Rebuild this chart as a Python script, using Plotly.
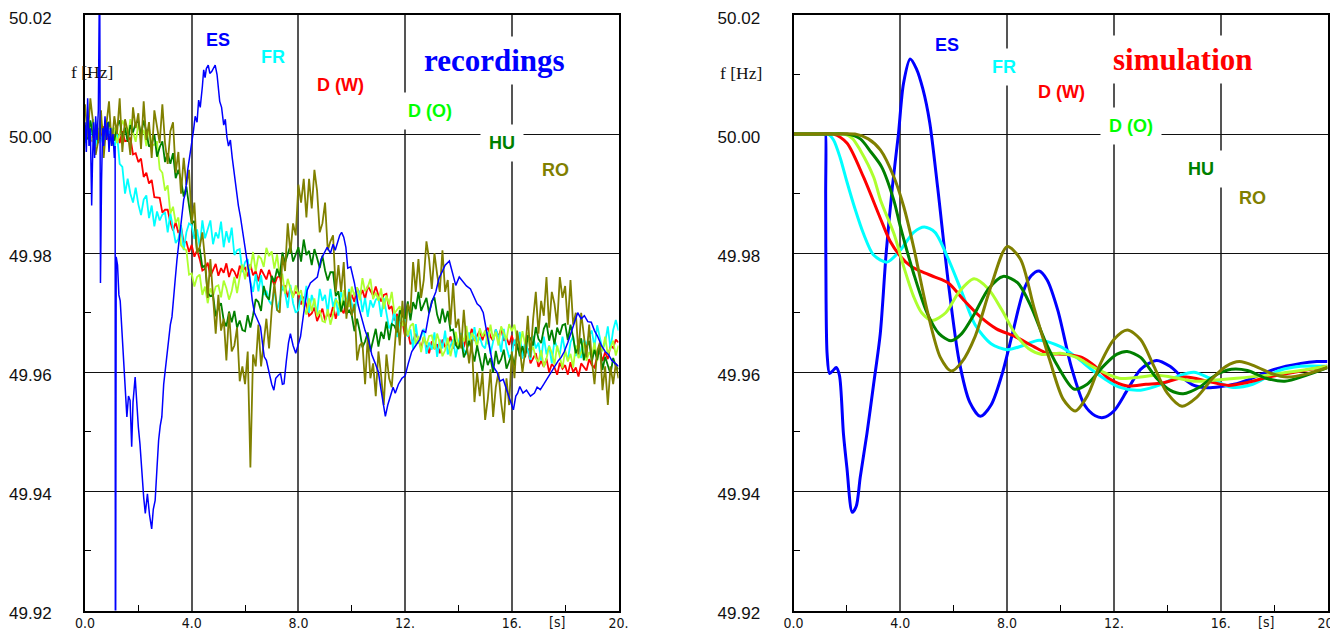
import plotly.graph_objects as go

# ------------------------------------------------------------------ data
REC_DT = 0.1  # s, sampling step of the digitised recordings (0 .. 20 s)

# recordings: deviation from 50 Hz in mHz, one value every 0.1 s
rec_fr_mhz = [
    -1.5, 1, -0.5, 2.5, -2, 1, -0.5, -2, 2, 0,
    1, -2.5, 0, -5, -5.5, -10, -7.5, -10, -11.5, -9,
    -11.8, -13.6, -11, -10.3, -14.1, -12, -15.5, -13, -14.5, -13.5,
    -13.2, -16.5, -13.3, -15.5, -18.3, -17.6, -15.3, -19.5, -16.5, -15,
    -15.3, -17.6, -16, -19, -14.5, -17.5, -16, -14.5, -18.5, -16.5,
    -17.5, -14.7, -19, -16.3, -18.2, -15.7, -20.3, -19.5, -19.3, -23.2,
    -21.5, -21, -24.8, -26.5, -23.5, -26.4, -23.7, -27, -26.3, -28,
    -28.7, -26, -29.7, -27.9, -25.5, -26.6, -29.2, -25.3, -28.4, -30,
    -29.5, -27, -28.5, -25.5, -30, -27, -28.5, -30, -26, -28,
    -27, -30, -26, -29, -27.5, -30.5, -26.5, -28, -29, -26,
    -28.5, -30, -27.2, -26.3, -29.9, -27.5, -30.7, -27.9, -29.1, -27.8,
    -27.5, -30.7, -27.5, -29.8, -32.6, -31.9, -29.7, -34.1, -31.5, -30.4,
    -31.2, -34, -32.8, -36.1, -31.9, -35.2, -34, -32.7, -36.9, -35,
    -36.2, -33.3, -37.4, -34.5, -36, -33, -37, -35.5, -34.5, -37.5,
    -35, -33.4, -36.2, -37, -33.3, -35.6, -32.4, -35.2, -34.1, -35.5,
    -36, -33.2, -36.9, -35.1, -32.8, -34, -36.6, -32.7, -35.8, -37.4,
    -37, -34.5, -36.1, -33.2, -37.7, -34.8, -36.3, -37.9, -33.9, -36,
    -35, -38, -34, -37, -35.5, -38.5, -34.5, -36, -37, -34,
    -36.5, -38, -35, -33.9, -37.3, -34.7, -37.6, -34.5, -35.4, -33.7,
    -33, -35.8, -32.1, -33.9, -36.2, -35, -32.3, -36.1, -32.9, -31.2,
    -33,
]
rec_dw_mhz = [
    -1, 0.4, -1.3, -0.3, 1.2, 0.5, -0.8, 1.3, -0.1, -1.2,
    0.8, -0.5, 0.3, -1.5, 0.5, -1.2, -1.1, -0.6, -3.4, -3.2,
    -4.7, -4.1, -7.2, -6.5, -8.3, -7.7, -10.6, -10.7, -10.7, -13.2,
    -12.7, -12.7, -14.8, -16.2, -14.8, -16.6, -15.6, -18.2, -18.1, -19.8,
    -18.6, -20.6, -19.5, -21, -22.9, -22.6, -21.6, -23.9, -22.7, -21.8,
    -23.8, -22.5, -23.3, -21.7, -24, -22.6, -23.1, -24.2, -22.1, -23,
    -22.3, -23.9, -21.9, -23.7, -23, -24.7, -22.7, -23.5, -24.4, -22.8,
    -24.3, -25.3, -24.1, -23.8, -26.2, -25.4, -27.4, -25.9, -27.1, -26.5,
    -26.8, -28.6, -27.3, -28.7, -30.5, -30.1, -29.1, -31.4, -30.2, -29.3,
    -31.3, -30, -30.7, -28.9, -31, -29.3, -29.4, -30.1, -27.6, -28.1,
    -27, -28.2, -25.8, -27.2, -26.2, -27.7, -25.5, -26.2, -27.1, -25.6,
    -27.1, -28.1, -27, -26.8, -29.4, -28.9, -31.3, -30.2, -31.8, -31.5,
    -34, -33.1, -35.3, -34.7, -33.5, -34.5, -36, -34.1, -35.6, -36.8,
    -34.8, -36.1, -35.3, -36.8, -34.5, -35.8, -35.2, -34, -36, -35,
    -35.6, -33.9, -35.8, -33.9, -34.5, -32.7, -34.7, -33.7, -33, -34.6,
    -33.2, -32.5, -34, -34.7, -32.8, -34.1, -32.6, -34.7, -34.1, -35.4,
    -33.8, -35.5, -34.1, -35.4, -37.2, -36.9, -36, -38.5, -37.5, -36.8,
    -39.1, -38.1, -39.1, -37.7, -40, -38.6, -39.2, -40.4, -38.4, -39.4,
    -38.8, -40.4, -38.3, -40, -39.2, -40.7, -38.5, -39.1, -39.7, -37.8,
    -38.8, -39.2, -37.4, -36.4, -38.1, -36.6, -37.8, -35.5, -35.9, -34.5,
    -35,
]
rec_do_mhz = [
    0.9, 2.1, -0.3, -1.3, 1.7, -0.1, 2.3, -0.5, 0.7, -0.9,
    -1.1, 1.1, -1.5, 0.1, 2.3, 1.3, -0.7, 2.5, 0.3, -1.3,
    1.7, -0.3, 0.7, -2, 1.1, -1.8, -1.8, -1.2, -5.9, -6.5,
    -9.5, -8.6, -13.3, -12.2, -14.9, -14, -18.7, -19.2, -19.5, -23.6,
    -23.4, -25.6, -24, -23.6, -27, -25.6, -28.4, -25.9, -27.2, -25.6,
    -25.4, -27.4, -24.6, -25.9, -27.8, -26.4, -24, -26.7, -24, -21.9,
    -24.4, -21.9, -22.6, -19.8, -23, -20.4, -20.9, -22.3, -19.1, -20.5,
    -19.7, -22.6, -20.2, -23.8, -23.6, -26.8, -24.3, -25.8, -27.5, -25.4,
    -27, -26.2, -29, -30.3, -27.6, -29.7, -27.6, -30.6, -29.6, -31.4,
    -31.6, -29.4, -32, -30.3, -27.8, -28.4, -29.9, -26.2, -27.9, -29,
    -25.6, -27.2, -25.7, -27.9, -24.2, -26.4, -25.7, -24.3, -27.7, -26.6,
    -28, -25.9, -29.4, -27.1, -28.6, -26.5, -30.1, -29.5, -28.9, -32.2,
    -31.8, -33.8, -32.2, -31.8, -35.3, -33.9, -36.6, -34, -35.4, -33.9,
    -33.8, -36.1, -33.5, -35.1, -37.3, -36.3, -34.2, -37.3, -35, -33.2,
    -36, -33.8, -34.8, -32.2, -35.6, -33.4, -34.2, -35.8, -32.6, -34,
    -33, -35.3, -32, -34.5, -33.2, -35.5, -32.3, -33.3, -34.5, -31.9,
    -33.1, -32, -34.6, -35.8, -33.1, -35.3, -33.3, -36.5, -35.7, -37.7,
    -38.2, -36.3, -39.1, -37.7, -35.6, -36.7, -38.7, -35.5, -37.7, -39.3,
    -36.3, -38.2, -36.9, -39.2, -35.5, -37.6, -36.7, -35, -38.1, -36.6,
    -37.5, -35, -38.1, -35.4, -36.5, -34, -37.1, -36, -34.7, -37.2,
    -35.5,
]
rec_hu_mhz = [
    1.5, -0.9, 2.3, -0.3, 0.9, -1.5, 1.7, 0.7, -0.5, 2.1,
    0.1, -1.1, 1.3, 2.3, -0.7, 1.1, -1.3, 1.5, 0.3, 1.9,
    2.1, -0.1, 2.3, 0.4, -2.1, -1.6, -0.1, -3.8, -2.2, -1.2,
    -4.7, -3.2, -5, -3.2, -7.4, -6, -7.7, -10.5, -8.8, -12,
    -15, -14.6, -19.8, -19.2, -22.4, -22, -26.7, -27.2, -27, -30.6,
    -29.1, -28.4, -31.3, -32.3, -29.8, -31.6, -29.7, -32.5, -31.3, -32.9,
    -33.1, -30.4, -32.5, -30.4, -27.7, -28.2, -29.7, -25.5, -27.2, -27.8,
    -23.8, -24.8, -22.6, -24, -19.9, -21.6, -20.3, -18.7, -21.4, -20,
    -19, -21.4, -17.7, -20.3, -19.6, -22, -19.3, -20.8, -22.5, -20.4,
    -22.9, -24.6, -23.2, -23.2, -27.2, -26.4, -29.8, -28, -30.2, -29.6,
    -30.4, -33.1, -31, -33.1, -35.8, -34.8, -33.3, -36.5, -34.3, -32.7,
    -35.7, -33.2, -34.4, -31.5, -34.6, -31.9, -32.2, -33.3, -29.6, -30.5,
    -31, -28.1, -31.3, -28.2, -29.4, -26.5, -29.7, -28.7, -27.5, -30.1,
    -28.1, -27.4, -30.3, -31.8, -29.3, -31.6, -29.7, -33, -32.8, -35.4,
    -36.1, -34.4, -37.5, -36.4, -34.7, -36.2, -38.2, -35.5, -37.7, -39.8,
    -36.8, -38.8, -37.6, -40, -36.4, -38.6, -37.8, -36.2, -39.4, -38,
    -37, -38.9, -35.2, -37.3, -35.6, -37.5, -33.8, -34.3, -35.5, -32.4,
    -34.4, -35.1, -32.7, -31.7, -34.7, -32.9, -35.3, -32.5, -33.7, -32.1,
    -31.9, -34.6, -32, -34.1, -36.8, -35.8, -34.3, -38, -35.8, -34.7,
    -38.2, -36.2, -37.9, -35.5, -39.6, -37.4, -38.7, -40.3, -37.6, -39,
    -39.5,
]
rec_ro_mhz = [
    5, -0.5, 6, 2, -3.5, -1, 4, -4, 1.5, 5.5,
    -2, 3, 0, 6, -3, 2.5, 0.5, -3.5, 4.5, 1,
    3.5, -2.5, 5.5, -1, 2, -4, 4, 1.5, -1.5, 5,
    -1.5, -5, 0.5, 2, -6.5, -3, -10, -4, -8.5, -6,
    -15, -11.5, -20, -19, -16.5, -21, -27.5, -21, -28, -33.5,
    -27, -33, -31, -38, -30, -36.5, -35.5, -32.5, -41.5, -39,
    -42, -36.5, -56, -37, -39, -32, -39, -35, -31, -36,
    -29.5, -25, -29.5, -30, -20.5, -23, -15, -20, -15, -17,
    -8.5, -11.5, -7.5, -14, -7.5, -12.5, -6, -9.5, -16.5, -15,
    -11.5, -19.5, -18, -17, -26.5, -22, -26.5, -21.5, -31, -26.5,
    -30.5, -28.5, -38, -35.5, -35, -42, -34, -41, -38.5, -44,
    -36.5, -40.5, -45.5, -37, -41, -42.5, -36, -30.5, -35.5, -28,
    -34, -28.5, -30, -21.5, -26.5, -21, -27.5, -24.5, -18, -21,
    -26, -20, -23.5, -26.5, -19.5, -26.5, -24.5, -32, -25, -32.5,
    -31, -36, -29.5, -35, -38.5, -34.5, -45, -40, -44, -40,
    -48, -44.5, -39.5, -47.5, -42.5, -40, -45, -48.5, -41, -45.5,
    -36.5, -41, -33, -36, -40, -36.5, -30.5, -37.5, -31, -26.5,
    -33.5, -28, -30.5, -24, -32.5, -26.5, -28.5, -32, -24, -27.5,
    -25.5, -32, -24.5, -32, -30, -37, -30, -33.5, -37.5, -32,
    -38, -42, -36.5, -35, -43, -39, -45.5, -39, -42, -38.5,
    -41,
]
rec_es_t = [
    0.0, 0.05, 0.1, 0.15, 0.2, 0.25, 0.28, 0.32, 0.36, 0.4, 0.45, 0.5, 0.55, 0.58, 0.62,
    0.66, 0.7, 0.75, 0.8, 0.85, 0.9, 0.95, 1.0, 1.05, 1.1, 1.13, 1.14, 1.17, 1.22, 1.27,
    1.32, 1.38, 1.44, 1.5, 1.57, 1.63, 1.69, 1.75, 1.8, 1.88, 1.94, 2.0, 2.06, 2.13, 2.2,
    2.26, 2.34, 2.42, 2.5, 2.56, 2.63, 2.7, 2.76, 2.82, 2.88, 2.95, 3.0, 3.07, 3.15, 3.2,
    3.26, 3.32, 3.38, 3.45, 3.5, 3.57, 3.64, 3.7, 3.76, 3.85, 3.95, 4.0, 4.07, 4.13, 4.2,
    4.26, 4.32, 4.4, 4.45, 4.5, 4.55, 4.62, 4.68, 4.75, 4.82, 4.88, 4.95, 5.0, 5.05, 5.12,
    5.2, 5.26, 5.32, 5.38, 5.45, 5.52, 5.6, 5.68, 5.75, 5.83, 5.9, 5.97, 6.03, 6.1, 6.2,
    6.27, 6.35, 6.45, 6.58, 6.65, 6.72, 6.8, 6.9, 7.0, 7.08, 7.15, 7.25, 7.33, 7.4, 7.46,
    7.55, 7.63, 7.7, 7.8, 7.9, 8.0, 8.08, 8.2, 8.33, 8.45, 8.58, 8.71, 8.85, 8.95, 9.08,
    9.2, 9.3, 9.38, 9.46, 9.55, 9.62, 9.7, 9.78, 9.85, 9.96, 10.1, 10.24, 10.4, 10.5, 10.62,
    10.75, 10.88, 11.0, 11.1, 11.2, 11.26, 11.35, 11.45, 11.55, 11.63, 11.75, 11.88, 12.0, 12.12, 12.25,
    12.4, 12.55, 12.65, 12.77, 12.9, 13.02, 13.15, 13.27, 13.4, 13.5, 13.66, 13.78, 13.9, 14.03, 14.17,
    14.3, 14.45, 14.55, 14.7, 14.82, 14.93, 15.05, 15.18, 15.3, 15.45, 15.56, 15.68, 15.8, 15.92, 16.06,
    16.15, 16.22, 16.3, 16.42, 16.55, 16.7, 16.85, 16.95, 17.07, 17.2, 17.33, 17.46, 17.6, 17.75, 17.85,
    17.96, 18.1, 18.25, 18.35, 18.47, 18.6, 18.72, 18.85, 18.98, 19.1, 19.22, 19.36, 19.5, 19.62, 19.75,
    19.88, 20.0,
]
rec_es_mhz = [
    2, -3, 6, -2, 1, -12, -5, 2, -4, 3, -1, 4, 30, -25, -8,
    1, -2, 3, -1, 2, -3, 1, -2, 0, -4, -2, -110, -20.6, -22, -27,
    -28, -33, -38, -42, -47.5, -44, -44.7, -52.5, -45, -40.8, -46, -49.2, -52, -57.6, -61,
    -63.7, -60.4, -64, -66.3, -63, -61.5, -56, -51.4, -49, -47.5, -42, -40, -36.8, -33, -32,
    -30.7, -27, -24.5, -21, -19, -16.7, -13, -11, -10, -6, -3, -1, 0.7, 3, 2,
    5.7, 4.5, 8, 10.8, 9.5, 11, 11.6, 10.2, 10.5, 11.2, 11.6, 10, 8, 5.5, 4.5,
    1.5, 2.5, -0.5, -2, -1, -4, -7, -10, -12, -14, -16, -18, -19.5, -22, -25,
    -27.9, -30, -31, -32.4, -35, -37.4, -38, -40, -42, -43, -41, -40.5, -40.2, -42, -41.9,
    -38, -35, -33.5, -35.5, -36.8, -35, -34, -30, -26.2, -25, -24.5, -24, -21, -20, -19,
    -20, -18.5, -19.5, -18.4, -17, -16.5, -17.3, -19, -22.5, -22.3, -25, -28.7, -31.5, -33, -34.4,
    -37, -38.5, -40, -43, -46, -47.4, -45.5, -44, -42.5, -43.5, -42, -41, -40.6, -38.5, -36.5,
    -35.5, -34.5, -33, -33.3, -30, -28, -26.5, -24.2, -23, -22, -21.3, -23.5, -25.4, -24, -24.8,
    -25.5, -26, -27, -28.5, -29, -30, -33, -36.5, -39, -40, -41.5, -41.2, -43, -44.5, -46.3,
    -44, -43.5, -42.4, -43.5, -43, -44, -43.5, -42.5, -42.9, -42, -41, -40, -39, -38, -37.5,
    -36.6, -35, -33, -31.5, -30, -31, -30.5, -31.5, -31.6, -33, -34, -35.5, -36.5, -37, -38,
    -38.5, -39,
]

# simulation: frequency in Hz at the given times (s)
sim_es_t = [0, 0.6, 1.1, 1.19, 1.2, 1.205, 1.22, 1.26, 1.35, 1.48, 1.6, 1.72, 1.87,
            2.0, 2.2, 2.35, 2.5, 2.75, 3.0, 3.25, 3.47, 3.7, 3.93,
            4.12, 4.37, 4.6, 4.85, 5.1, 5.4, 5.8, 6.2, 6.6, 7.0,
            7.4, 7.8, 8.2, 8.6, 8.9, 9.2, 9.5, 9.9, 10.4, 10.9,
            11.3, 11.6, 12.0, 12.5, 13.0, 13.6, 14.1, 14.6, 15.0, 15.5,
            16.0, 16.5, 17.0, 18.0, 19.0, 19.6, 20.0]
sim_es_hz = [50.0, 50.0, 50.0, 50.0, 50.0, 49.99, 49.972, 49.963, 49.9598, 49.9603, 49.9608, 49.9595, 49.9497,
             49.944, 49.9365, 49.9375, 49.9424, 49.9497, 49.958, 49.9665, 49.980, 49.991, 50.000,
             50.0085, 50.0126, 50.011, 50.0075, 50.002, 49.991, 49.975, 49.962, 49.955, 49.9526,
             49.9545, 49.9595, 49.9665, 49.9735, 49.9762, 49.977, 49.9755, 49.9704, 49.961, 49.9545,
             49.9527, 49.9524, 49.9535, 49.957, 49.9605, 49.962, 49.961, 49.959, 49.9578, 49.9574,
             49.9576, 49.958, 49.9587, 49.9605, 49.9615, 49.9618, 49.9618]
sim_fr_t = [0, 0.7, 1.3, 1.5, 1.75, 2.0, 2.3, 2.62, 3.0, 3.5, 4.0,
            4.5, 4.9, 5.3, 5.8, 6.3, 6.8, 7.4, 8.0, 8.6, 9.2,
            10.0, 10.6, 11.3, 12.2, 13.0, 13.8, 14.5, 15.0, 15.6, 16.4,
            17.2, 18.2, 19.0, 20.0]
sim_fr_hz = [50.0, 50.0, 50.0, 49.999, 49.996, 49.992, 49.9875, 49.9833, 49.9797, 49.9785, 49.9805,
             49.9835, 49.9844, 49.9835, 49.979, 49.9735, 49.968, 49.9648, 49.9638, 49.9645, 49.9654,
             49.9643, 49.9625, 49.960, 49.9575, 49.957, 49.958, 49.9595, 49.960, 49.959, 49.9575,
             49.958, 49.9603, 49.961, 49.961]
sim_dw_t = [0, 0.8, 1.5, 2.0, 2.62, 3.24, 3.62, 4.0, 4.4, 4.8, 5.3,
            5.8, 6.4, 7.0, 7.6, 8.3, 9.0, 9.5, 10.2, 10.8, 11.3,
            11.8, 12.5, 13.2, 13.8, 14.7, 15.5, 16.3, 17.0, 17.8, 19.0,
            20.0]
sim_dw_hz = [50.0, 50.0, 50.0, 49.9985, 49.9928, 49.986, 49.982, 49.9795, 49.9778, 49.9769, 49.976,
             49.975, 49.972, 49.9693, 49.9673, 49.966, 49.9643, 49.9632, 49.963, 49.9625, 49.961,
             49.959, 49.9577, 49.958, 49.9582, 49.9592, 49.9585, 49.9578, 49.9583, 49.9592, 49.9602,
             49.961]
sim_do_t = [0, 1.0, 1.9, 2.2, 2.5, 3.0, 3.26, 3.76, 4.13, 4.5, 4.8,
            5.2, 5.7, 6.2, 6.76, 7.3, 7.8, 8.3, 8.8, 9.3, 10.0,
            10.6, 11.3, 12.2, 13.0, 13.6, 14.4, 15.0, 15.8, 16.6, 17.5,
            18.5, 19.3, 20.0]
sim_do_hz = [50.0, 50.0, 50.0, 49.9993, 49.9973, 49.9928, 49.9889, 49.9833, 49.9777, 49.9727, 49.970,
             49.9687, 49.970, 49.9735, 49.9757, 49.974, 49.9705, 49.9665, 49.964, 49.963, 49.9632,
             49.9625, 49.9607, 49.959, 49.9592, 49.9595, 49.959, 49.9585, 49.9587, 49.959, 49.9594,
             49.960, 49.9605, 49.961]
sim_hu_t = [0, 1.0, 2.0, 2.5, 2.9, 3.3, 3.75, 4.0, 4.5, 5.0, 5.45,
            5.9, 6.3, 6.8, 7.3, 7.85, 8.4, 8.9, 9.4, 9.9, 10.5,
            11.0, 11.6, 12.1, 12.5, 13.0, 13.6, 14.1, 14.6, 15.2, 15.8,
            16.4, 17.0, 17.7, 18.4, 19.2, 20.0]
sim_hu_hz = [50.0, 50.0, 50.0, 49.9992, 49.997, 49.9945, 49.989, 49.9845, 49.9766, 49.970, 49.9665,
             49.9653, 49.9665, 49.970, 49.974, 49.9761, 49.975, 49.971, 49.9655, 49.961, 49.9572,
             49.958, 49.961, 49.963, 49.9635, 49.9625, 49.959, 49.957, 49.9564, 49.9575, 49.9595,
             49.9605, 49.9603, 49.959, 49.9585, 49.9595, 49.9608]
sim_ro_t = [0, 1.2, 2.3, 2.8, 3.26, 3.76, 4.13, 4.5, 5.0, 5.5, 5.91,
            6.3, 6.8, 7.4, 8.0, 8.5, 9.0, 9.6, 10.1, 10.55, 11.0,
            11.5, 12.0, 12.5, 13.0, 13.5, 14.0, 14.55, 15.1, 15.7, 16.2,
            16.7, 17.3, 17.9, 18.5, 19.2, 20.0]
sim_ro_hz = [50.0, 50.0, 50.0, 49.9992, 49.9973, 49.9928, 49.9878, 49.981, 49.9705, 49.9625, 49.9602,
             49.9617, 49.966, 49.9745, 49.9811, 49.979, 49.971, 49.962, 49.9555, 49.9535, 49.956,
             49.9615, 49.9655, 49.9671, 49.9655, 49.961, 49.9565, 49.9543, 49.9558, 49.959, 49.961,
             49.9618, 49.961, 49.9598, 49.9592, 49.9597, 49.9608]

AREAS = ["ES", "FR", "D (W)", "D (O)", "HU", "RO"]
LINE_COLORS = ["#0000FF", "#00FFFF", "#FF0000", "#ADFF2F", "#008000", "#808000"]
LABEL_COLORS = ["#0000FF", "#00FFFF", "#FF0000", "#00FF00", "#008000", "#808000"]

Y_TICKS = [49.92, 49.94, 49.96, 49.98, 50.00, 50.02]
Y_MINOR = [49.93, 49.95, 49.97, 49.99, 50.01]
X_TICKS = [0, 4, 8, 12, 16, 20]
X_TICKTEXT = ["0.0", "4.0", "8.0", "12.", "16.", "20."]
X_MINOR = [2, 6, 10, 14, 18]

# ------------------------------------------------------------------ figure
W, H = 1338, 635
OFF = 8  # the page body margin shifts the figure by 8 px right and down
fig = go.Figure()


def px(x):
    return (x - OFF) / W


def py(y):
    return 1 - (y - OFF) / H


def mhz_to_hz(vals):
    return [50.0 + v / 1000.0 for v in vals]


def uniform_t(vals):
    return [round(i * REC_DT, 3) for i in range(len(vals))]


rec_series = {
    "FR": rec_fr_mhz, "D (W)": rec_dw_mhz, "D (O)": rec_do_mhz,
    "HU": rec_hu_mhz, "RO": rec_ro_mhz,
}
for name in ["D (W)", "FR", "D (O)", "HU", "RO"]:
    i = AREAS.index(name)
    vals = rec_series[name]
    fig.add_trace(go.Scatter(x=uniform_t(vals), y=mhz_to_hz(vals), mode="lines",
                             line=dict(color=LINE_COLORS[i], width=1.8),
                             xaxis="x", yaxis="y", showlegend=False, hoverinfo="skip"))
fig.add_trace(go.Scatter(x=rec_es_t, y=mhz_to_hz(rec_es_mhz), mode="lines",
                         line=dict(color=LINE_COLORS[0], width=1.5),
                         xaxis="x", yaxis="y", showlegend=False, hoverinfo="skip"))

sim_series = {
    "ES": (sim_es_t, sim_es_hz), "FR": (sim_fr_t, sim_fr_hz), "D (W)": (sim_dw_t, sim_dw_hz),
    "D (O)": (sim_do_t, sim_do_hz), "HU": (sim_hu_t, sim_hu_hz), "RO": (sim_ro_t, sim_ro_hz),
}
for name in ["ES", "FR", "D (W)", "D (O)", "HU", "RO"]:
    i = AREAS.index(name)
    t, f = sim_series[name]
    fig.add_trace(go.Scatter(x=t, y=f, mode="lines",
                             line=dict(color=LINE_COLORS[i], width=3, shape="spline", smoothing=0.8),
                             xaxis="x2", yaxis="y2", showlegend=False, hoverinfo="skip"))

# pixel geometry of the two plot frames (in screenshot pixels)
L0, L1 = 85, 618.5
R0, R1 = 793.5, 1327.5
TOP, BOT = 15, 610.5
y_dom = [py(BOT), py(TOP)]

xcommon = dict(range=[0, 20], tickmode="array", tickvals=X_TICKS, ticktext=X_TICKTEXT,
               showgrid=True, gridcolor="#555555", gridwidth=1.6,
               showline=True, linecolor="#000000", linewidth=2, mirror=True,
               ticks="", zeroline=False, ticklabelstandoff=-1, automargin=False,
               ticklabeloverflow="allow",
               tickfont=dict(family="Liberation Sans Narrow, DejaVu Sans Condensed, Arial Narrow, sans-serif",
                             size=14, color="#111111"),
               minor=dict(tickmode="array", tickvals=X_MINOR, ticks="inside", ticklen=6,
                          tickwidth=1.2, tickcolor="#000000", showgrid=False),
               fixedrange=True)
ycommon = dict(range=[49.92, 50.02], tickmode="array", tickvals=Y_TICKS,
               ticktext=["%.2f" % v for v in Y_TICKS],
               showgrid=True, gridcolor="#111111", gridwidth=1.1,
               showline=True, linecolor="#000000", linewidth=2, mirror=True,
               ticks="", zeroline=False, ticklabelstandoff=28, ticklabelshift=3, automargin=False,
               ticklabeloverflow="allow",
               tickfont=dict(family="Liberation Sans, Arial, sans-serif", size=17, color="#111111"),
               minor=dict(tickmode="array", tickvals=Y_MINOR, ticks="inside", ticklen=6,
                          tickwidth=1.2, tickcolor="#000000", showgrid=False),
               fixedrange=True)

fig.update_layout(
    width=W, height=H,
    margin=dict(l=0, r=0, t=0, b=0, autoexpand=False),
    paper_bgcolor="white", plot_bgcolor="white",
    xaxis=dict(domain=[px(L0), px(L1)], anchor="y", **xcommon),
    yaxis=dict(domain=y_dom, anchor="x", **ycommon),
    xaxis2=dict(domain=[px(R0), px(R1)], anchor="y2", **xcommon),
    yaxis2=dict(domain=y_dom, anchor="x2", **ycommon),
)

# area labels (positions in data coordinates of each panel)
rec_label_pos = [(4.97, 50.0158), (7.03, 50.0130), (9.56, 50.0082),
                 (12.92, 50.0039), (15.62, 49.9985), (17.62, 49.9940)]
sim_label_pos = [(5.76, 50.0150), (7.89, 50.0112), (10.03, 50.0070),
                 (12.65, 50.0013), (15.28, 49.9942), (17.19, 49.9892)]
ann = []
for (xr, yr), (xs, ys), name, col in zip(rec_label_pos, sim_label_pos, AREAS, LABEL_COLORS):
    for xv, yv, xr_, yr_ in [(xr, yr, "x", "y"), (xs, ys, "x2", "y2")]:
        ann.append(dict(x=xv, y=yv, xref=xr_, yref=yr_, text=name, showarrow=False,
                        font=dict(family="Liberation Sans, Arial, sans-serif", size=18,
                                  color=col, weight="bold"),
                        bgcolor="white", borderpad=8, xanchor="center", yanchor="middle"))

ann.append(dict(x=15.37, y=50.01244, xref="x", yref="y", text="recordings", showarrow=False,
                font=dict(family="Liberation Serif, Times New Roman, serif", size=31,
                          color="#0000FF", weight="bold"),
                bgcolor="white", borderpad=6, xanchor="center", yanchor="middle"))
ann.append(dict(x=14.59, y=50.0125, xref="x2", yref="y2", text="simulation", showarrow=False,
                font=dict(family="Liberation Serif, Times New Roman, serif", size=31,
                          color="#FF0000", weight="bold"),
                bgcolor="white", borderpad=6, xanchor="center", yanchor="middle"))

# axis titles
ann.append(dict(x=px(91.5), y=py(72), xref="paper", yref="paper", text="f [Hz]", showarrow=False,
                font=dict(family="Liberation Serif, Times New Roman, serif", size=17.5, color="#111111"),
                xanchor="center", yanchor="middle"))
ann.append(dict(x=px(740.5), y=py(73), xref="paper", yref="paper", text="f [Hz]", showarrow=False,
                font=dict(family="Liberation Serif, Times New Roman, serif", size=17.5, color="#111111"),
                xanchor="center", yanchor="middle"))
for xa in ["x", "x2"]:
    ann.append(dict(x=17.7, y=py(622), xref=xa, yref="paper", text="[s]", showarrow=False,
                    font=dict(family="Liberation Sans Narrow, DejaVu Sans Condensed, Arial Narrow, sans-serif",
                              size=14, color="#111111"),
                    xanchor="center", yanchor="middle"))

fig.update_layout(annotations=ann)

fig.write_html("out.html")
